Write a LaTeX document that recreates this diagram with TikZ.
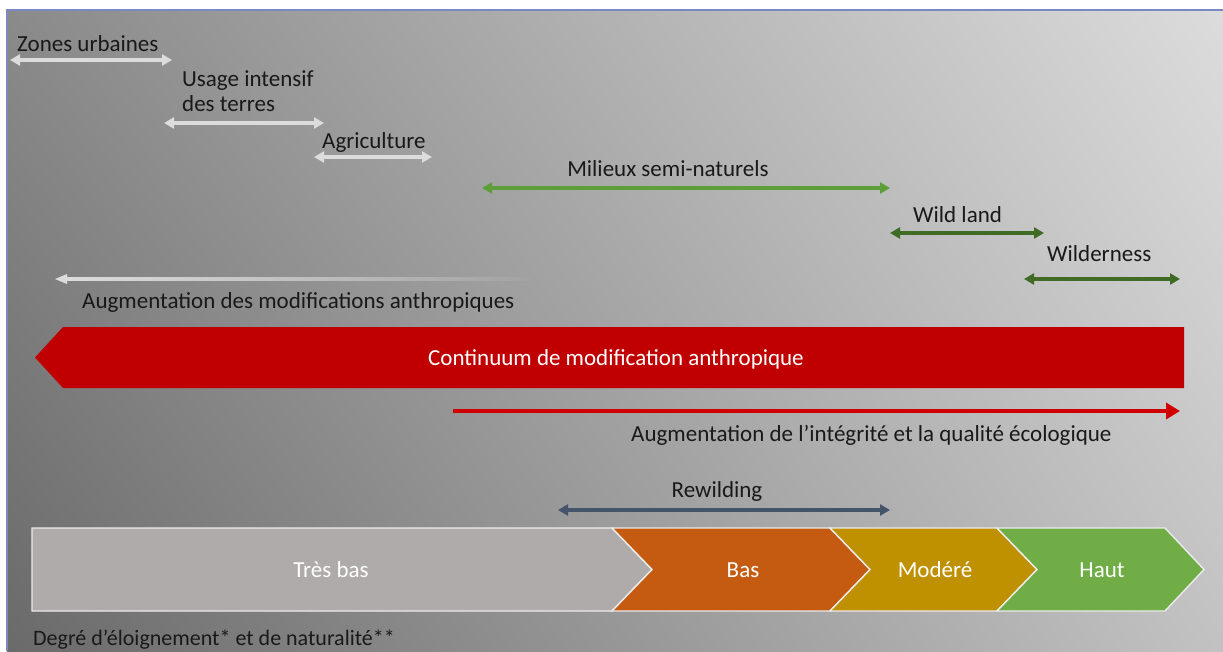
\documentclass[tikz,border=0pt]{standalone}
\usepackage{fontspec}
\setmainfont{Carlito}
\usetikzlibrary{arrows.meta,shadings}
\definecolor{bgUL}{HTML}{8A8A8A}
\definecolor{bgUR}{HTML}{DCDCDC}
\definecolor{bgLL}{HTML}{6A6A6A}
\definecolor{bgLR}{HTML}{C2C2C2}
\definecolor{frameblue}{HTML}{7C88C0}
\definecolor{lightarr}{HTML}{DCDCDC}
\definecolor{semigreen}{HTML}{5E9E38}
\definecolor{darkgreen}{HTML}{3F6B25}
\definecolor{slate}{HTML}{44546A}
\definecolor{banner}{HTML}{C00000}
\definecolor{redarr}{HTML}{D00000}
\definecolor{cTres}{HTML}{AFABAB}
\definecolor{cBas}{HTML}{C55A11}
\definecolor{cMod}{HTML}{BF9000}
\definecolor{cHaut}{HTML}{70AD47}
\tikzset{
  lbl/.style={inner sep=0pt, font=\fontsize{23}{27}\selectfont, text=black!90},
  wlbl/.style={inner sep=0pt, font=\fontsize{23}{27}\selectfont, text=white},
  dbl/.style={line width=3.4pt, {Triangle[length=10pt,width=11pt]}-{Triangle[length=10pt,width=11pt]}},
  chev/.style={draw=white!92!black, line width=1.4pt},
}
\begin{document}
\begin{tikzpicture}[x=1pt,y=-1pt]
\useasboundingbox (0,0) rectangle (1223,651);
\fill[white] (0,0) rectangle (1223,651);
\shade[upper left=bgUL, upper right=bgUR, lower left=bgLL, lower right=bgLR] (7,10) rectangle (1223,651);
\draw[frameblue, line width=1.5pt] (7,651) -- (7,10) -- (1223,10);

% top range arrows
\node[lbl, anchor=base west] (zu) at (17,51) {Zones urbaines};
\coordinate (zuA) at (10,60); \coordinate (zuB) at (172,60);
\draw[dbl, lightarr] (zuA) -- (zuB);

\node[lbl, anchor=base west] (ui) at (182,86) {Usage intensif};
\node[lbl, anchor=base west] (dt) at (182,111) {des terres};
\coordinate (uiA) at (164,123); \coordinate (uiB) at (324,123);
\draw[dbl, lightarr] (uiA) -- (uiB);

\node[lbl, anchor=base west] (ag) at (322,148) {Agriculture};
\coordinate (agA) at (314,157); \coordinate (agB) at (432,157);
\draw[dbl, lightarr] (agA) -- (agB);

\node[lbl, anchor=base] (ms) at (668,176) {Milieux semi-naturels};
\coordinate (msA) at (482,188); \coordinate (msB) at (890,188);
\draw[dbl, semigreen] (msA) -- (msB);

\node[lbl, anchor=base west] (wl) at (913,222) {Wild land};
\coordinate (wlA) at (890,233); \coordinate (wlB) at (1044,233);
\draw[dbl, darkgreen] (wlA) -- (wlB);

\node[lbl, anchor=base west] (wd) at (1047,261) {Wilderness};
\coordinate (wdA) at (1024,279); \coordinate (wdB) at (1180,279);
\draw[dbl, darkgreen] (wdA) -- (wdB);

% fading grey arrow
\coordinate (gaTip) at (55,279);
\coordinate (gaEnd) at (530,279);
\shade[left color=lightarr, right color=lightarr!30!bgUL] (66,277.3) rectangle (530,280.7);
\fill[lightarr] (gaTip) -- (67,274) -- (67,284) -- cycle;
\node[lbl, anchor=base west] (am) at (82,308) {Augmentation des modifications anthropiques};

% red banner
\fill[banner] (63,327) -- (1184,327) -- (1184,388) -- (63,388) -- (35,357.5) -- cycle;
\node[wlbl, anchor=base] (cm) at (616,365) {Continuum de modification anthropique};

% red arrow
\coordinate (raA) at (453,411); \coordinate (raB) at (1180,411);
\draw[redarr, line width=4pt, -{Triangle[length=14pt,width=16pt]}] (raA) -- (raB);
\node[lbl, anchor=base west] (ai) at (631,441) {Augmentation de l’intégrité et la qualité écologique};

% rewilding
\node[lbl, anchor=base] (rw) at (717,497) {Rewilding};
\coordinate (rwA) at (558,510); \coordinate (rwB) at (890,510);
\draw[dbl, slate] (rwA) -- (rwB);

% chevrons
\filldraw[chev, fill=cTres] (32,528) -- (612,528) -- (652,569.5) -- (612,611) -- (32,611) -- cycle;
\filldraw[chev, fill=cBas] (612,528) -- (830,528) -- (870,569.5) -- (830,611) -- (612,611) -- (652,569.5) -- cycle;
\filldraw[chev, fill=cMod] (830,528) -- (997,528) -- (1037,569.5) -- (997,611) -- (830,611) -- (870,569.5) -- cycle;
\filldraw[chev, fill=cHaut] (997,528) -- (1165,528) -- (1204,569.5) -- (1165,611) -- (997,611) -- (1037,569.5) -- cycle;
\node[wlbl, anchor=base] (tb) at (331,577) {Très bas};
\node[wlbl, anchor=base] (bs) at (743,577) {Bas};
\node[wlbl, anchor=base] (md) at (935,577) {Modéré};
\node[wlbl, anchor=base] (ht) at (1102,577) {Haut};

\node[lbl, anchor=base west, font=\fontsize{22}{26}\selectfont] (dg) at (33,645) {Degré d’éloignement* et de naturalité**};
\end{tikzpicture}
\end{document}
